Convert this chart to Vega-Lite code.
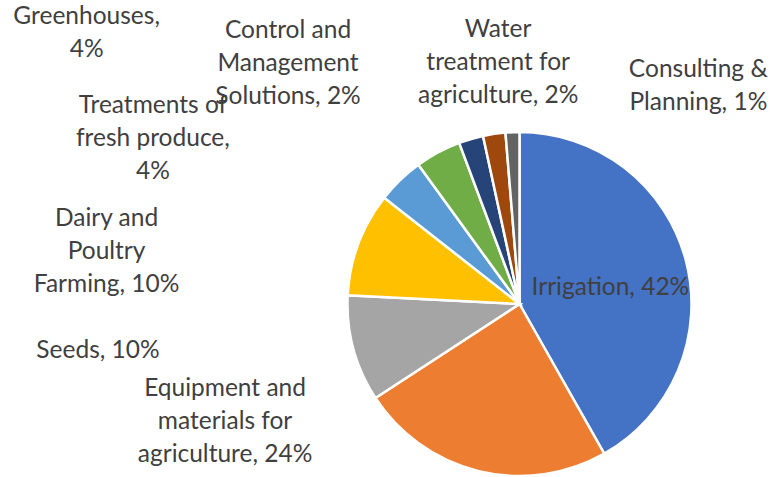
{
  "$schema": "https://vega.github.io/schema/vega-lite/v6.json",
  "autosize": {"type": "none"},
  "width": 346,
  "height": 346,
  "padding": {"left": 346.5, "top": 131, "right": 80.5, "bottom": 0},
  "background": "white",
  "config": {"view": {"stroke": null}},
  "data": {
    "values": [
      {"order": 1, "category": "Irrigation", "value": 41.8, "label": ["Irrigation, 42%"]},
      {"order": 2, "category": "Equipment and materials for agriculture", "value": 24.0, "label": ["Equipment and", "materials for", "agriculture, 24%"]},
      {"order": 3, "category": "Seeds", "value": 10.0, "label": ["Seeds, 10%"]},
      {"order": 4, "category": "Dairy and Poultry Farming", "value": 9.8, "label": ["Dairy and", "Poultry", "Farming, 10%"]},
      {"order": 5, "category": "Treatments of fresh produce", "value": 4.4, "label": ["Treatments of", "fresh produce,", "4%"]},
      {"order": 6, "category": "Greenhouses", "value": 4.3, "label": ["Greenhouses,", "4%"]},
      {"order": 7, "category": "Control and Management Solutions", "value": 2.3, "label": ["Control and", "Management", "Solutions, 2%"]},
      {"order": 8, "category": "Water treatment for agriculture", "value": 2.1, "label": ["Water", "treatment for", "agriculture, 2%"]},
      {"order": 9, "category": "Consulting & Planning", "value": 1.3, "label": ["Consulting &", "Planning, 1%"]}
    ]
  },
  "encoding": {
    "theta": {"field": "value", "type": "quantitative", "stack": true},
    "order": {"field": "order", "type": "quantitative"}
  },
  "layer": [
    {
      "mark": {"type": "arc", "outerRadius": 172, "stroke": "white", "strokeWidth": 2.5},
      "encoding": {
        "color": {
          "field": "category",
          "type": "nominal",
          "legend": null,
          "scale": {
            "domain": ["Irrigation", "Equipment and materials for agriculture", "Seeds", "Dairy and Poultry Farming", "Treatments of fresh produce", "Greenhouses", "Control and Management Solutions", "Water treatment for agriculture", "Consulting & Planning"],
            "range": ["#4472C4", "#ED7D31", "#A5A5A5", "#FFC000", "#5B9BD5", "#70AD47", "#264478", "#9E480E", "#636363"]
          }
        }
      }
    },
    {
      "mark": {"type": "text", "radius": 94, "dy": 8, "font": "Lato", "fontSize": 24.5, "lineHeight": 33, "color": "#404040", "align": "center", "baseline": "middle"},
      "encoding": {"text": {"condition": {"test": "datum.category === 'Irrigation'", "field": "label"}, "value": ""}}
    },
    {
      "mark": {"type": "text", "radius": 190, "dx": -249.5, "dy": -99.6, "font": "Lato", "fontSize": 24.5, "lineHeight": 33, "color": "#404040", "align": "center", "baseline": "middle"},
      "encoding": {"text": {"condition": {"test": "datum.category === 'Equipment and materials for agriculture'", "field": "label"}, "value": ""}}
    },
    {
      "mark": {"type": "text", "radius": 190, "dx": -238.1, "dy": -2.5, "font": "Lato", "fontSize": 24.5, "lineHeight": 33, "color": "#404040", "align": "center", "baseline": "middle"},
      "encoding": {"text": {"condition": {"test": "datum.category === 'Seeds'", "field": "label"}, "value": ""}}
    },
    {
      "mark": {"type": "text", "radius": 190, "dx": -235, "dy": -18, "font": "Lato", "fontSize": 24.5, "lineHeight": 33, "color": "#404040", "align": "center", "baseline": "middle"},
      "encoding": {"text": {"condition": {"test": "datum.category === 'Dairy and Poultry Farming'", "field": "label"}, "value": ""}}
    },
    {
      "mark": {"type": "text", "radius": 190, "dx": -234.8, "dy": -61.1, "font": "Lato", "fontSize": 24.5, "lineHeight": 33, "color": "#404040", "align": "center", "baseline": "middle"},
      "encoding": {"text": {"condition": {"test": "datum.category === 'Treatments of fresh produce'", "field": "label"}, "value": ""}}
    },
    {
      "mark": {"type": "text", "radius": 190, "dx": -342.9, "dy": -119.2, "font": "Lato", "fontSize": 24.5, "lineHeight": 33, "color": "#404040", "align": "center", "baseline": "middle"},
      "encoding": {"text": {"condition": {"test": "datum.category === 'Greenhouses'", "field": "label"}, "value": ""}}
    },
    {
      "mark": {"type": "text", "radius": 190, "dx": -177.9, "dy": -90.7, "font": "Lato", "fontSize": 24.5, "lineHeight": 33, "color": "#404040", "align": "center", "baseline": "middle"},
      "encoding": {"text": {"condition": {"test": "datum.category === 'Control and Management Solutions'", "field": "label"}, "value": ""}}
    },
    {
      "mark": {"type": "text", "radius": 190, "dx": 6.6, "dy": -85.6, "font": "Lato", "fontSize": 24.5, "lineHeight": 33, "color": "#404040", "align": "center", "baseline": "middle"},
      "encoding": {"text": {"condition": {"test": "datum.category === 'Water treatment for agriculture'", "field": "label"}, "value": ""}}
    },
    {
      "mark": {"type": "text", "radius": 190, "dx": 186.6, "dy": -43.7, "font": "Lato", "fontSize": 24.5, "lineHeight": 33, "color": "#404040", "align": "center", "baseline": "middle"},
      "encoding": {"text": {"condition": {"test": "datum.category === 'Consulting & Planning'", "field": "label"}, "value": ""}}
    }
  ]
}
